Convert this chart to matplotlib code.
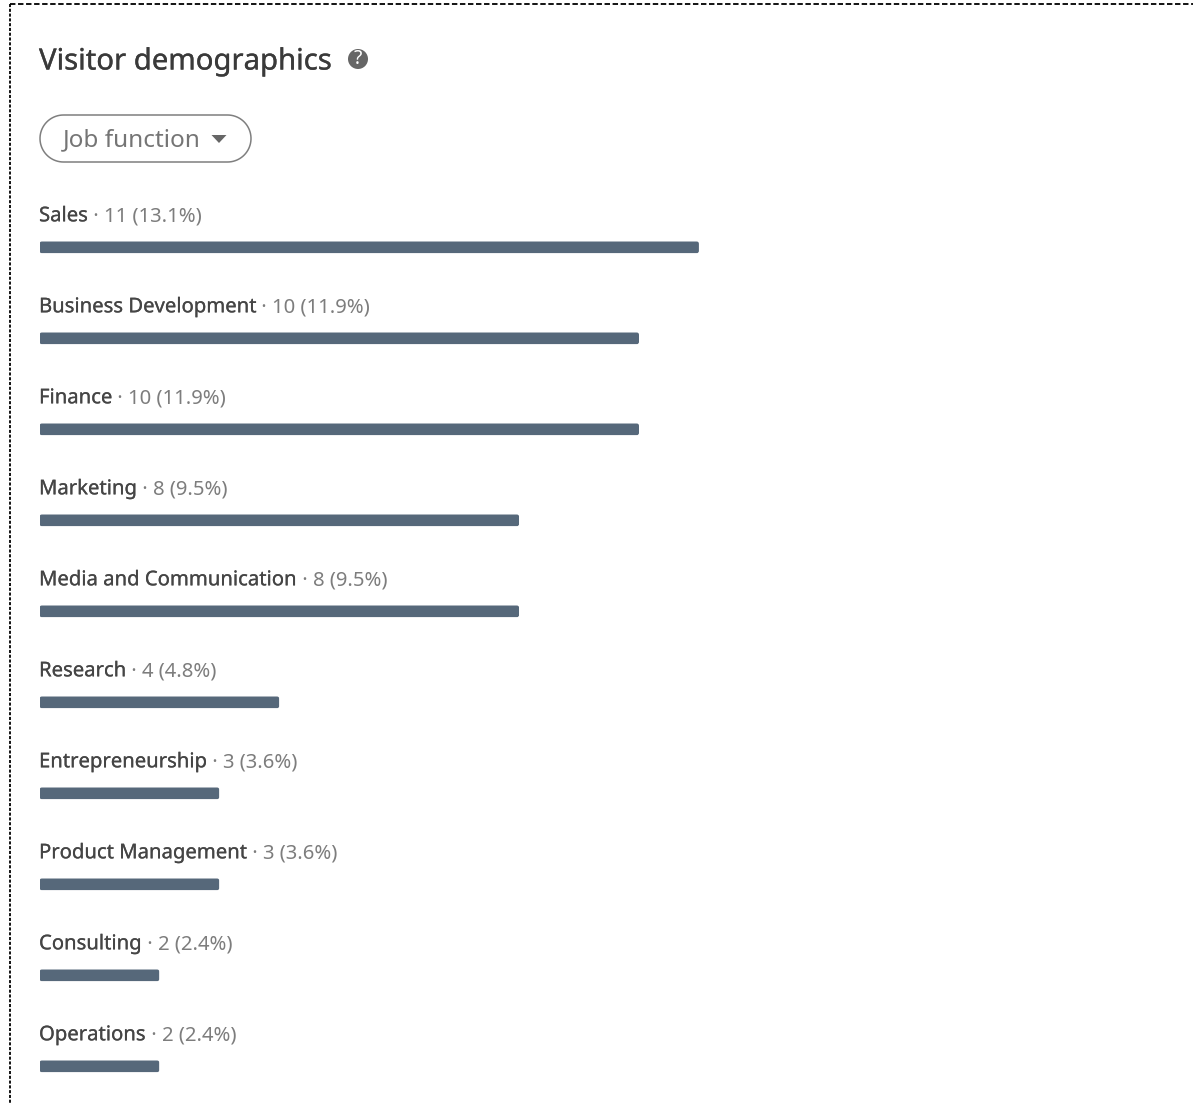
import matplotlib
matplotlib.use("Agg")
import numpy as np
import matplotlib.pyplot as plt
import matplotlib.patheffects as pe
from matplotlib.patches import FancyBboxPatch, Circle, Polygon

categories = ["Sales", "Business Development", "Finance", "Marketing",
              "Media and Communication", "Research", "Entrepreneurship",
              "Product Management", "Consulting", "Operations"]
counts = [11, 10, 10, 8, 8, 4, 3, 3, 2, 2]
shares = ["13.1%", "11.9%", "11.9%", "9.5%", "9.5%", "4.8%", "3.6%", "3.6%", "2.4%", "2.4%"]
title = "Visitor demographics"
selector = "Job function"

W, H = 1193, 1104
FONT = "Noto Sans"
DARK = "#454545"
GREY = "#7d7d7d"
BAR = "#56687a"
plt.rcParams["font.family"] = FONT


def heavier(width, color):
    return [pe.withStroke(linewidth=width, foreground=color)]


fig = plt.figure(figsize=(W / 100, H / 100), dpi=100, facecolor="white")

# overlay in pixel coordinates for the page furniture
ui = fig.add_axes([0, 0, 1, 1])
ui.set_xlim(0, W)
ui.set_ylim(H, 0)
ui.axis("off")
ui.plot([10, 10], [4, H], color="black", lw=1.3, ls=(0, (1.7, 0.95)))
ui.plot([10, W], [4, 4], color="black", lw=1.3, ls=(0, (3.0, 1.45)))
ui.text(39, 62, title, fontsize=21.1, color="#3a3a3a", va="center", ha="left",
        path_effects=heavier(0.2, "#3a3a3a"))
ui.add_patch(Circle((358, 59), 10, fc="#666666", ec="none"))
ui.text(358, 59, "?", color="white", fontsize=14, fontweight="bold", ha="center", va="center")

theta = np.linspace(-np.pi / 2, np.pi / 2, 40)
pill_r, pill_l, pill_rr, pill_cy = 23.5, 63.5, 227.5, 138.5
right = np.column_stack([pill_rr + pill_r * np.cos(theta), pill_cy + pill_r * np.sin(theta)])
left = np.column_stack([pill_l - pill_r * np.cos(theta), pill_cy - pill_r * np.sin(theta)])
ui.add_patch(Polygon(np.vstack([right, left]), closed=True, fc="white", ec="#7f7f7f", lw=1.1, zorder=3))
ui.text(63, 140.5, selector, fontsize=17.5, color="#757575", va="center", ha="left", zorder=4)
ui.add_patch(Polygon([[211.5, 135], [226.5, 135], [219, 143]], closed=True, fc="#666666", ec="none", zorder=4))

# chart axes
PX_PER_UNIT = 59.95
ROW = 91.0
ax = fig.add_axes([39.5 / W, 0, 11 * PX_PER_UNIT / W, 1 - (247.3 - ROW / 2) / H])
ax.patch.set_alpha(0)
ax.set_xlim(0, 11)
ax.set_ylim((1104 - 247.3) / ROW, -0.5)
ax.axis("off")
ypos = list(range(len(categories)))
bar_h = 12 / ROW
bars = ax.barh(ypos, counts, height=bar_h, color=BAR, linewidth=0)
rad_x = 2.5 / PX_PER_UNIT
aspect = (2.5 / ROW) / rad_x
for b, y, n in zip(bars, ypos, counts):
    b.set_snap(False)
    clip = FancyBboxPatch((0, y - bar_h / 2), n, bar_h,
                          boxstyle=f"round,pad=0,rounding_size={rad_x}",
                          mutation_aspect=aspect, transform=ax.transData)
    b.set_clip_path(clip)

for i, (c, n, s) in enumerate(zip(categories, counts, shares)):
    t = ax.annotate(c, xy=(0, i), xytext=(-0.5, 26), textcoords="offset pixels",
                    fontsize=14.6, color=DARK, va="baseline", ha="left", annotation_clip=False,
                    path_effects=heavier(0.15, DARK))
    ax.annotate(f" \u00b7 {n} ({s})", xy=(1, i), xycoords=(t, "data"), xytext=(0, 26),
                textcoords="offset pixels", fontsize=14.6, color=GREY, va="baseline", ha="left",
                annotation_clip=False)

fig.savefig("out.png", dpi=100, facecolor="white")
